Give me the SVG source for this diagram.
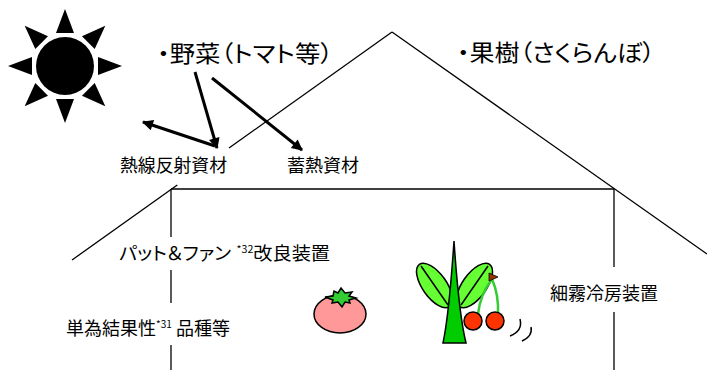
<svg xmlns="http://www.w3.org/2000/svg" width="707" height="370" viewBox="0 0 707 370">
  <style>
    .lbl { font-family: "Noto Sans CJK JP", "Noto Sans", sans-serif; fill: #000; font-feature-settings: "palt"; }
    .big { font-size: 23px; }
    .mid { font-size: 18px; }
    .sup { font-size: 10px; }
    .frame { stroke: #000; stroke-width: 1.3; fill: none; }
    .arr { stroke: #000; stroke-width: 3; fill: none; marker-end: url(#ah); }
    .ol { stroke: #000; stroke-width: 1.5; }
  </style>
  <defs>
    <marker id="ah" viewBox="0 0 10 10" refX="9" refY="5" markerUnits="userSpaceOnUse" markerWidth="13" markerHeight="11" orient="auto">
      <path d="M0,0 L10,5 L0,10 Z" fill="#000"/>
    </marker>
    <polygon id="ray" points="0,-57 -9,-33 9,-33" fill="#000"/>
  </defs>
  <rect width="707" height="370" fill="#fff"/>

  <g id="sun" transform="translate(65,66)">
    <circle cx="0" cy="0" r="29" fill="#000"/>
    <use href="#ray"/>
    <use href="#ray" transform="rotate(45)"/>
    <use href="#ray" transform="rotate(90)"/>
    <use href="#ray" transform="rotate(135)"/>
    <use href="#ray" transform="rotate(180)"/>
    <use href="#ray" transform="rotate(225)"/>
    <use href="#ray" transform="rotate(270)"/>
    <use href="#ray" transform="rotate(315)"/>
  </g>

  <g id="greenhouse" class="frame">
    <line x1="72" y1="260" x2="177.3" y2="185"/>
    <line x1="229" y1="148" x2="392" y2="32"/>
    <line x1="392" y1="32" x2="707" y2="254"/>
    <line x1="171" y1="189" x2="614" y2="189"/>
    <line x1="171" y1="189" x2="171" y2="237"/>
    <line x1="171" y1="270" x2="171" y2="303"/>
    <line x1="171" y1="345" x2="171" y2="370"/>
    <line x1="614" y1="189" x2="614" y2="267"/>
    <line x1="614" y1="312" x2="614" y2="370"/>
  </g>

  <g id="connectors">
    <line class="arr" x1="195" y1="72" x2="217" y2="148"/>
    <line class="arr" x1="212" y1="78" x2="302" y2="150"/>
    <line class="arr" x1="215" y1="146" x2="143" y2="122"/>
  </g>

  <g id="label-vegetables">
    <text class="lbl big" x="157" y="62" textLength="176" lengthAdjust="spacingAndGlyphs">・野菜（トマト等）</text>
  </g>
  <g id="label-fruit">
    <text class="lbl big" x="457" y="61" textLength="198" lengthAdjust="spacingAndGlyphs">・果樹（さくらんぼ）</text>
  </g>
  <g id="label-heat-reflect">
    <text class="lbl mid" x="120" y="172" textLength="107" lengthAdjust="spacingAndGlyphs">熱線反射資材</text>
  </g>
  <g id="label-heat-storage">
    <text class="lbl mid" x="287" y="172" textLength="72" lengthAdjust="spacingAndGlyphs">蓄熱資材</text>
  </g>
  <g id="label-pad-fan">
    <text class="lbl mid" x="119" y="260" textLength="211" lengthAdjust="spacingAndGlyphs">パット＆ファン<tspan class="sup" dx="5" dy="-7">*32</tspan><tspan dy="7">改良装置</tspan></text>
  </g>
  <g id="label-parthenocarpy">
    <text class="lbl mid" x="66" y="335" textLength="164" lengthAdjust="spacingAndGlyphs">単為結果性<tspan class="sup" dy="-7">*31</tspan><tspan dy="7"> 品種等</tspan></text>
  </g>
  <g id="label-mist">
    <text class="lbl mid" x="550" y="300" textLength="108" lengthAdjust="spacingAndGlyphs">細霧冷房装置</text>
  </g>

  <g id="tomato">
    <ellipse class="ol" cx="340" cy="314" rx="26" ry="19" fill="#FF9999"/>
    <polygon class="ol" fill="#33CC33" stroke-width="1" points="325,297 333,296 334,291 338,293 341,288 345,293 352,292 349,296 356,298 349,300 350,303 345,302 342,307 338,302 332,303 333,300"/>
  </g>

  <g id="cherry-tree">
    <ellipse class="ol" cx="434.5" cy="285.5" rx="26" ry="12" fill="#66FF33" transform="rotate(54.5 434.5 285.5)"/>
    <line class="ol" x1="421" y1="266" x2="448" y2="305" stroke-width="1.2"/>
    <ellipse class="ol" cx="474.5" cy="285.5" rx="26" ry="12" fill="#66FF33" transform="rotate(-54.5 474.5 285.5)"/>
    <line class="ol" x1="488" y1="266" x2="461" y2="305" stroke-width="1.2"/>
    <path class="ol" fill="#00CC00" d="M454,241 Q449,315 443,343 L466,343 Q459,315 454,241 Z"/>
    <path d="M492,279 Q480,295 478,314 M492,279 Q499,295 498,315" stroke="#33CC33" stroke-width="2.5" fill="none"/>
    <polygon points="489,273 498,277 489,281" fill="#993300" stroke="#000" stroke-width="0.8"/>
    <circle class="ol" cx="473" cy="321" r="9" fill="#FF3300"/>
    <circle class="ol" cx="495" cy="321" r="9" fill="#FF3300"/>
    <path d="M510,336 Q523,331 520,319 M522,341 Q533,336 531,327" stroke="#000" stroke-width="1.5" fill="none"/>
  </g>
</svg>
